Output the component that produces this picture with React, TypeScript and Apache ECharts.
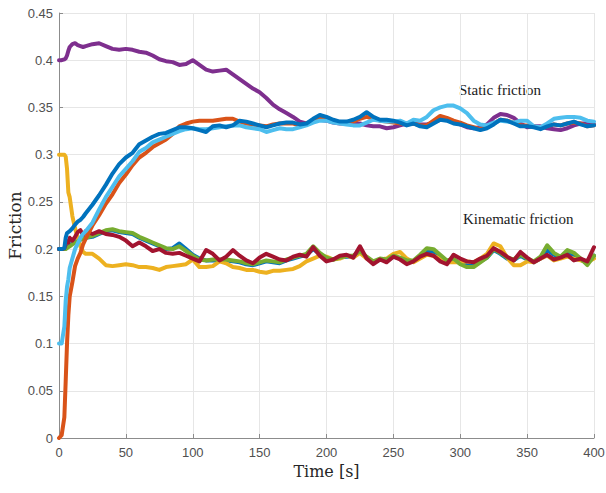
import React, { useEffect, useRef } from "react";
import * as echarts from "echarts";

// sample times [s]
const times = [
  0, 2, 4, 5, 6, 7, 8, 10, 12, 14, 16, 18, 20,
  25, 30, 35, 40, 45, 50, 55, 60, 65, 70,
  75, 80, 85, 90, 95, 100, 105, 110, 115, 120,
  125, 130, 135, 140, 145, 150, 155, 160, 165, 170,
  175, 180, 185, 190, 195, 200, 205, 210, 215, 220,
  225, 230, 235, 240, 245, 250, 255, 260, 265, 270,
  275, 280, 285, 290, 295, 300, 305, 310, 315, 320,
  325, 330, 335, 340, 345, 350, 355, 360, 365, 370,
  375, 380, 385, 390, 395, 400,
];

// static friction
const staticBlue = [
  .200, .200, .201, .212, .217, .218, .219, .222, .226, .229, .231, .234, .238,
  .247, .257, .268, .280, .290, .297, .302, .311, .315, .319,
  .322, .323, .326, .329, .329, .328, .326, .324, .330, .331,
  .329, .331, .336, .335, .333, .331, .329, .331, .333, .334,
  .334, .332, .333, .338, .342, .340, .337, .335, .335, .337,
  .340, .345, .340, .337, .337, .336, .334, .331, .333, .330,
  .329, .333, .337, .336, .333, .332, .330, .328, .326, .328,
  .332, .337, .336, .333, .330, .330, .329, .327, .330, .332,
  .331, .333, .335, .332, .330, .331,
];
const staticLightBlue = [
  .100, .100, .118, .145, .160, .168, .180, .190, .200, .206, .212, .216, .219,
  .228, .242, .255, .266, .277, .285, .293, .303, .307, .313,
  .316, .319, .322, .325, .327, .328, .327, .327, .328, .329,
  .330, .331, .331, .329, .328, .327, .324, .326, .328, .327,
  .327, .329, .331, .334, .336, .336, .334, .333, .332, .331,
  .331, .334, .337, .336, .335, .335, .336, .333, .337, .336,
  .340, .347, .350, .352, .352, .349, .344, .336, .332, .331,
  .334, .336, .335, .334, .336, .336, .330, .329, .333, .338,
  .339, .340, .340, .339, .336, .335,
];
const staticOrange = [
  .000, .003, .022, .060, .100, .130, .150, .165, .182, .190, .196, .205, .211,
  .225, .236, .248, .258, .270, .279, .289, .297, .302, .308,
  .312, .316, .322, .330, .333, .335, .336, .336, .336, .337,
  .338, .338, .335, .333, .332, .331, .330, .332, .333, .333,
  .333, .331, .333, .336, .339, .338, .336, .334, .334, .335,
  .338, .340, .338, .336, .335, .334, .333, .332, .333, .331,
  .331, .336, .341, .339, .336, .334, .331, .329, .327, .329,
  .333, .337, .336, .334, .331, .331, .330, .328, .330, .332,
  .331, .333, .334, .333, .330, .331,
];
const staticPurple = [
  .400, .400, .401, .402, .405, .410, .414, .417, .418, .416, .415, .414, .415,
  .417, .418, .415, .412, .411, .412, .411, .409, .408, .405,
  .401, .399, .398, .395, .396, .400, .395, .390, .388, .389,
  .390, .385, .380, .375, .370, .366, .360, .353, .348, .344,
  .340, .335, .333, .335, .337, .336, .334, .333, .333, .333,
  .333, .331, .330, .330, .328, .329, .331, .333, .333, .332,
  .332, .334, .337, .337, .334, .332, .329, .328, .329, .332,
  .339, .343, .342, .339, .333, .329, .330, .330, .328, .327,
  .326, .328, .331, .333, .333, .332,
];

// kinematic friction
const kinBlue = [
  .200, .200, .200, .201, .202, .203, .204, .206, .208, .209, .210, .211, .212,
  .213, .216, .219, .220, .218, .217, .216, .212, .209, .206,
  .203, .200, .201, .206, .200, .194, .190, .188, .188, .188,
  .188, .187, .186, .184, .183, .185, .187, .186, .185, .188,
  .190, .192, .194, .200, .195, .190, .189, .191, .192, .192,
  .197, .191, .186, .189, .188, .192, .190, .187, .187, .193,
  .198, .197, .192, .187, .189, .185, .183, .183, .187, .191,
  .199, .195, .190, .188, .193, .189, .186, .190, .199, .194,
  .191, .196, .194, .189, .185, .193,
];
const kinYellow = [
  .300, .300, .300, .298, .285, .260, .255, .235, .222, .212, .203, .197, .195,
  .195, .190, .183, .182, .183, .184, .183, .181, .181, .180,
  .178, .181, .182, .183, .184, .189, .181, .181, .182, .187,
  .185, .181, .180, .178, .178, .176, .175, .177, .177, .178,
  .179, .182, .187, .190, .193, .192, .189, .190, .193, .191,
  .196, .190, .186, .189, .190, .195, .197, .190, .186, .190,
  .194, .193, .190, .186, .186, .186, .187, .186, .190, .195,
  .206, .203, .191, .183, .183, .187, .186, .190, .193, .188,
  .190, .192, .190, .188, .186, .190,
];
const kinGreen = [
  .200, .200, .200, .200, .201, .202, .203, .205, .207, .208, .210, .211, .212,
  .214, .217, .220, .221, .219, .218, .217, .213, .210, .207,
  .204, .201, .200, .203, .198, .193, .189, .188, .189, .189,
  .189, .188, .187, .185, .184, .186, .188, .187, .186, .189,
  .191, .193, .195, .203, .196, .191, .189, .191, .193, .193,
  .198, .192, .187, .190, .189, .193, .191, .188, .188, .194,
  .201, .200, .194, .188, .190, .184, .181, .181, .186, .191,
  .200, .196, .191, .189, .194, .190, .187, .192, .204, .196,
  .192, .199, .196, .190, .183, .193,
];
const kinRed = [
  .200, .200, .201, .205, .208, .207, .212, .209, .213, .218, .220, .215, .219,
  .216, .219, .216, .215, .213, .209, .203, .207, .203, .198,
  .200, .196, .195, .196, .193, .190, .187, .199, .195, .188,
  .192, .199, .193, .188, .185, .191, .195, .192, .189, .188,
  .192, .194, .192, .202, .193, .187, .189, .193, .194, .191,
  .203, .190, .184, .189, .186, .192, .189, .184, .187, .192,
  .195, .193, .187, .184, .194, .190, .187, .186, .190, .193,
  .201, .197, .192, .188, .197, .191, .186, .190, .194, .189,
  .191, .194, .188, .190, .187, .202,
];

const xTicks = { min: 0, max: 400, interval: 50 };
const yTicks = { min: 0, max: 0.45, interval: 0.05 };

const seriesDefs: { name: string; values: number[]; color: string }[] = [
  { name: "kinBlue", values: kinBlue, color: "#0072BD" },
  { name: "kinYellow", values: kinYellow, color: "#EDB120" },
  { name: "kinGreen", values: kinGreen, color: "#77AC30" },
  { name: "kinRed", values: kinRed, color: "#A2142F" },
  { name: "staticPurple", values: staticPurple, color: "#7E2F8E" },
  { name: "staticOrange", values: staticOrange, color: "#D95319" },
  { name: "staticLightBlue", values: staticLightBlue, color: "#4DBEEE" },
  { name: "staticBlue", values: staticBlue, color: "#0072BD" },
];

const axisColor = "#8c8c8c";
const labelColor = "#505050";
const gridColor = "#e6e6e6";

export default function App() {
  const ref = useRef<HTMLDivElement>(null);
  useEffect(() => {
    const chart = echarts.init(ref.current!, null, { renderer: "svg" });
    chart.setOption({
      animation: false,
      backgroundColor: "#ffffff",
      grid: {
        left: 59, right: 12, top: 13, bottom: 55,
        containLabel: false,
        outerBoundsMode: "none",
      },
      xAxis: {
        type: "value",
        ...xTicks,
        name: "Time [s]",
        nameLocation: "middle",
        nameGap: 25,
        nameMoveOverlap: false,
        nameTextStyle: { fontFamily: "DejaVu Serif", fontSize: 16, color: "#262626" },
        axisLine: { show: true, lineStyle: { color: axisColor, width: 1 } },
        axisTick: { show: true, inside: true, length: 4, lineStyle: { color: axisColor } },
        axisLabel: { color: labelColor, fontFamily: "Liberation Sans", fontSize: 13, margin: 8 },
        splitLine: { show: true, lineStyle: { color: gridColor, width: 1 } },
      },
      yAxis: {
        type: "value",
        ...yTicks,
        name: "Friction",
        nameLocation: "middle",
        nameGap: 36,
        nameMoveOverlap: false,
        nameRotate: 90,
        nameTextStyle: { fontFamily: "DejaVu Serif", fontSize: 17, color: "#262626" },
        axisLine: { show: true, lineStyle: { color: axisColor, width: 1 } },
        axisTick: { show: true, inside: true, length: 4, lineStyle: { color: axisColor } },
        axisLabel: {
          color: labelColor,
          fontFamily: "Liberation Sans",
          fontSize: 13,
          margin: 6,
          formatter: (v: number) => String(+v.toFixed(2)),
        },
        splitLine: { show: true, lineStyle: { color: gridColor, width: 1 } },
      },
      graphic: [
        {
          type: "text",
          left: 459,
          top: 82,
          style: { text: "Static friction", fontFamily: "Liberation Serif", fontSize: 15, fill: "#1a1a1a" },
        },
        {
          type: "text",
          left: 463,
          top: 211,
          style: { text: "Kinematic friction", fontFamily: "Liberation Serif", fontSize: 15, fill: "#1a1a1a" },
        },
      ],
      series: seriesDefs.map((s) => ({
        name: s.name,
        type: "line",
        data: times.map((t, i) => [t, s.values[i]]),
        showSymbol: false,
        symbol: "none",
        lineStyle: { color: s.color, width: 4, join: "round", cap: "round" },
        itemStyle: { color: s.color },
        silent: true,
      })),
    });
    return () => chart.dispose();
  }, []);
  return (
    <div
      ref={ref}
      style={{ position: "absolute", left: 0, top: 0, width: 606, height: 493, background: "#fff" }}
    />
  );
}
